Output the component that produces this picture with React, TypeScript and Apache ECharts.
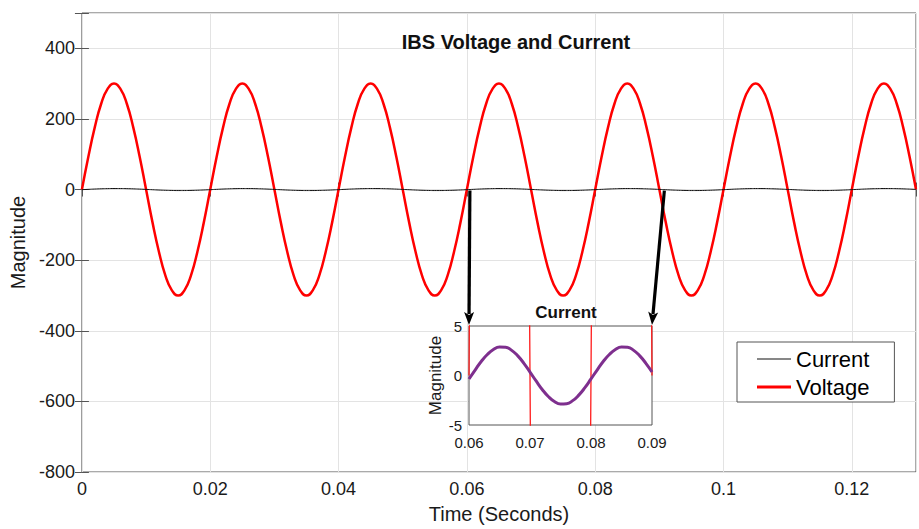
import React, { useEffect, useRef } from "react";
import * as echarts from "echarts";

// Sample step (s) of the recorded waveforms
const STEP = 0.001;

// Voltage samples (V), one every 1 ms, 0 … 0.13 s
const VOLTAGE = [
  0, 93, 176, 243, 285, 300, 285, 243, 176, 93, 0, -93, -176, -243, -285, -300, -285, -243, -176, -93,
  0, 93, 176, 243, 285, 300, 285, 243, 176, 93, 0, -93, -176, -243, -285, -300, -285, -243, -176, -93,
  0, 93, 176, 243, 285, 300, 285, 243, 176, 93, 0, -93, -176, -243, -285, -300, -285, -243, -176, -93,
  0, 93, 176, 243, 285, 300, 285, 243, 176, 93, 0, -93, -176, -243, -285, -300, -285, -243, -176, -93,
  0, 93, 176, 243, 285, 300, 285, 243, 176, 93, 0, -93, -176, -243, -285, -300, -285, -243, -176, -93,
  0, 93, 176, 243, 285, 300, 285, 243, 176, 93, 0, -93, -176, -243, -285, -300, -285, -243, -176, -93,
  0, 93, 176, 243, 285, 300, 285, 243, 176, 93, 0,
];

// Current samples (A), one every 1 ms, 0 … 0.13 s
const CURRENT = [
  -0.35, 0.55, 1.41, 2.12, 2.63, 2.88, 2.85, 2.54, 1.98, 1.23, 0.35, -0.55, -1.41, -2.12, -2.63, -2.88, -2.85, -2.54, -1.98, -1.23,
  -0.35, 0.55, 1.41, 2.12, 2.63, 2.88, 2.85, 2.54, 1.98, 1.23, 0.35, -0.55, -1.41, -2.12, -2.63, -2.88, -2.85, -2.54, -1.98, -1.23,
  -0.35, 0.55, 1.41, 2.12, 2.63, 2.88, 2.85, 2.54, 1.98, 1.23, 0.35, -0.55, -1.41, -2.12, -2.63, -2.88, -2.85, -2.54, -1.98, -1.23,
  -0.35, 0.55, 1.41, 2.12, 2.63, 2.88, 2.85, 2.54, 1.98, 1.23, 0.35, -0.55, -1.41, -2.12, -2.63, -2.88, -2.85, -2.54, -1.98, -1.23,
  -0.35, 0.55, 1.41, 2.12, 2.63, 2.88, 2.85, 2.54, 1.98, 1.23, 0.35, -0.55, -1.41, -2.12, -2.63, -2.88, -2.85, -2.54, -1.98, -1.23,
  -0.35, 0.55, 1.41, 2.12, 2.63, 2.88, 2.85, 2.54, 1.98, 1.23, 0.35, -0.55, -1.41, -2.12, -2.63, -2.88, -2.85, -2.54, -1.98, -1.23,
  -0.35, 0.55, 1.41, 2.12, 2.63, 2.88, 2.85, 2.54, 1.98, 1.23, 0.35,
];

// Axis ranges / ticks
const MAIN_X = { min: 0, max: 0.13, interval: 0.02 };
const MAIN_Y = { min: -800, max: 500, interval: 200 };
const ZOOM_X = { min: 0.06, max: 0.09, interval: 0.01 };
const ZOOM_Y = { min: -5, max: 5, interval: 5 };

const TITLE = "IBS Voltage and Current";
const ZOOM_TITLE = "Current";
const X_NAME = "Time (Seconds)";
const Y_NAME = "Magnitude";
const LEGEND = ["Current", "Voltage"];

const FONT = "'Liberation Sans', Arial, Helvetica, sans-serif";
const AXIS_COLOR = "#555555";
const TEXT_COLOR = "#1a1a1a";

const pairs = (vals: number[]) => vals.map((v, i) => [+(i * STEP).toFixed(3), v]);
const inRange = (vals: number[], lo: number, hi: number) =>
  pairs(vals).filter((p) => p[0] >= lo - 1e-9 && p[0] <= hi + 1e-9);

export default function App() {
  const ref = useRef<HTMLDivElement>(null);

  useEffect(() => {
    if (!ref.current) return;
    const chart = echarts.init(ref.current, undefined, { renderer: "svg" });

    const tickStyle = { show: true, inside: true, length: 7, lineStyle: { color: AXIS_COLOR } };
    const labelBase = { color: TEXT_COLOR, fontFamily: FONT, fontSize: 18 };
    const nameBase = { color: TEXT_COLOR, fontFamily: FONT, fontSize: 20 };

    const option: any = {
      animation: false,
      backgroundColor: "#ffffff",
      textStyle: { fontFamily: FONT },
      title: [
        {
          text: TITLE,
          left: 511,
          top: 27,
          textAlign: "center",
          textStyle: { fontFamily: FONT, fontSize: 20, fontWeight: "bold", color: "#111" },
        },
        {
          text: ZOOM_TITLE,
          left: 561,
          top: 299,
          textAlign: "center",
          textStyle: { fontFamily: FONT, fontSize: 17, fontWeight: "bold", color: "#111" },
        },
      ],
      legend: {
        data: [
          { name: LEGEND[0], icon: "path://M0,0H34V1H0Z" },
          { name: LEGEND[1], icon: "path://M0,0H34V3H0Z" },
        ],
        symbolKeepAspect: true,
        orient: "vertical",
        left: 737,
        top: 342,
        padding: [5, 25, 3, 20],
        itemWidth: 34,
        itemHeight: 14,
        itemGap: 4,
        backgroundColor: "#ffffff",
        borderColor: AXIS_COLOR,
        borderWidth: 1,
        textStyle: { fontFamily: FONT, fontSize: 22, color: "#000", lineHeight: 24 },
        z: 10,
      },
      grid: [
        { left: 79, right: 2, top: 13, bottom: 55, show: true, borderColor: AXIS_COLOR, borderWidth: 1, backgroundColor: "transparent" },
        { left: 469, width: 183, top: 326, height: 99, show: true, borderColor: AXIS_COLOR, borderWidth: 1, backgroundColor: "#ffffff", z: 5 },
      ],
      xAxis: [
        {
          type: "value",
          gridIndex: 0,
          ...MAIN_X,
          name: X_NAME,
          nameLocation: "middle",
          nameGap: 32,
          nameTextStyle: { ...nameBase },
          axisLine: { show: false },
          axisTick: tickStyle,
          axisLabel: {
            ...labelBase,
            margin: 8,
            formatter: (v: number) => (Math.abs(v - MAIN_X.max) < 1e-9 ? "" : String(Math.round(v * 100) / 100)),
          },
          splitLine: { show: true, lineStyle: { color: "#e3e3e3", width: 1 } },
        },
        {
          type: "value",
          gridIndex: 0,
          position: "top",
          ...MAIN_X,
          axisLine: { show: false },
          axisTick: tickStyle,
          axisLabel: { show: false },
          splitLine: { show: false },
        },
        {
          type: "value",
          gridIndex: 1,
          ...ZOOM_X,
          z: 6,
          axisLine: { show: false },
          axisTick: { show: false },
          axisLabel: {
            color: TEXT_COLOR,
            fontFamily: FONT,
            fontSize: 15,
            margin: 10,
            formatter: (v: number) => String(Math.round(v * 100) / 100),
          },
          splitLine: { show: false },
        },
      ],
      yAxis: [
        {
          type: "value",
          gridIndex: 0,
          ...MAIN_Y,
          name: Y_NAME,
          nameLocation: "middle",
          nameGap: 46,
          nameTextStyle: { ...nameBase },
          axisLine: { show: false },
          axisTick: tickStyle,
          axisLabel: {
            ...labelBase,
            margin: 7,
            formatter: (v: number) => (v === MAIN_Y.max ? "" : String(v)),
          },
          splitLine: { show: true, lineStyle: { color: "#e3e3e3", width: 1 } },
        },
        {
          type: "value",
          gridIndex: 0,
          position: "right",
          ...MAIN_Y,
          axisLine: { show: false },
          axisTick: tickStyle,
          axisLabel: { show: false },
          splitLine: { show: false },
        },
        {
          type: "value",
          gridIndex: 1,
          ...ZOOM_Y,
          z: 6,
          name: Y_NAME,
          nameLocation: "middle",
          nameGap: 25,
          nameTextStyle: { color: TEXT_COLOR, fontFamily: FONT, fontSize: 17 },
          axisLine: { show: false },
          axisTick: { show: false },
          axisLabel: { color: TEXT_COLOR, fontFamily: FONT, fontSize: 15, margin: 7 },
          splitLine: { show: false },
        },
      ],
      series: [
        {
          name: "Current",
          type: "line",
          xAxisIndex: 0,
          yAxisIndex: 0,
          data: pairs(CURRENT),
          showSymbol: false,
          symbol: "none",
          smooth: true,
          lineStyle: { color: "#111111", width: 1 },
          itemStyle: { color: "#111111" },
          z: 3,
        },
        {
          name: "Voltage",
          type: "line",
          xAxisIndex: 0,
          yAxisIndex: 0,
          data: pairs(VOLTAGE),
          showSymbol: false,
          symbol: "none",
          smooth: true,
          lineStyle: { color: "#ff0000", width: 2.5 },
          itemStyle: { color: "#ff0000" },
          z: 2,
        },
        {
          name: "Current (zoom)",
          type: "line",
          xAxisIndex: 2,
          yAxisIndex: 2,
          data: inRange(CURRENT, ZOOM_X.min, ZOOM_X.max),
          showSymbol: false,
          symbol: "none",
          smooth: true,
          clip: true,
          lineStyle: { color: "#7e2f8e", width: 3 },
          z: 8,
        },
        {
          name: "Voltage (zoom)",
          type: "line",
          xAxisIndex: 2,
          yAxisIndex: 2,
          data: inRange(VOLTAGE, ZOOM_X.min, ZOOM_X.max),
          showSymbol: false,
          symbol: "none",
          clip: true,
          lineStyle: { color: "#ff1a1a", width: 1.3 },
          z: 7,
        },
      ],
    };

    chart.setOption(option);

    // Arrows linking the main-axis zero crossings to the zoom window
    const arrow = (from: number[], to: number[]) => {
      const dx = to[0] - from[0];
      const dy = to[1] - from[1];
      const len = Math.hypot(dx, dy);
      const ux = dx / len;
      const uy = dy / len;
      const headL = 13;
      const headW = 5;
      const bx = to[0] - ux * headL;
      const by = to[1] - uy * headL;
      return [
        {
          type: "line",
          z: 20,
          shape: { x1: from[0], y1: from[1], x2: bx + ux * 2, y2: by + uy * 2 },
          style: { stroke: "#000", lineWidth: 3.2 },
        },
        {
          type: "polygon",
          z: 20,
          shape: {
            points: [
              [to[0], to[1]],
              [bx - uy * headW, by + ux * headW],
              [bx + ux * 3, by + uy * 3],
              [bx + uy * headW, by - ux * headW],
            ],
          },
          style: { fill: "#000" },
        },
      ];
    };

    const a0 = chart.convertToPixel({ seriesIndex: 0 }, [ZOOM_X.min, 0]) as number[];
    const a1 = chart.convertToPixel({ seriesIndex: 2 }, [ZOOM_X.min, ZOOM_Y.max]) as number[];
    const b0 = chart.convertToPixel({ seriesIndex: 0 }, [ZOOM_X.max, 0]) as number[];
    const b1 = chart.convertToPixel({ seriesIndex: 2 }, [ZOOM_X.max, ZOOM_Y.max]) as number[];

    chart.setOption({
      graphic: [
        ...arrow([a0[0] + 3, a0[1] + 1], [a1[0], a1[1] - 1]),
        ...arrow([b0[0] + 5, b0[1] + 1], [b1[0], b1[1] - 1]),
      ],
    });

    return () => chart.dispose();
  }, []);

  return <div ref={ref} style={{ position: "fixed", left: 0, top: 0, width: 919, height: 529 }} />;
}
